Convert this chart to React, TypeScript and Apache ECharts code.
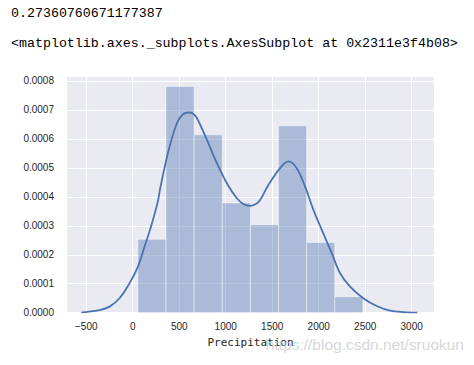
import React, { useEffect, useRef } from "react";
import * as echarts from "echarts";

// Histogram bins (edges) and densities
const binEdges = [55, 357.5, 660, 962.5, 1265, 1567.5, 1870, 2172.5, 2475];
const binDensity = [0.0002535, 0.000781, 0.000614, 0.000379, 0.000304, 0.000645, 0.000242, 0.0000553];

// KDE curve points
const kdeX = [-553, -535, -357, -249, -142, -34, 56, 127, 199, 271, 296, 385, 475, 540, 600, 650, 690, 797, 905, 1012, 1120, 1190, 1263, 1320, 1370, 1459, 1585, 1674, 1764, 1854, 1943, 2033, 2141, 2230, 2337, 2480, 2624, 2767, 2910, 3060];
const kdeY = [0, 0.000001, 0.000009, 0.000021, 0.00005, 0.000102, 0.000159, 0.000228, 0.0003, 0.000385, 0.00043, 0.00056, 0.000654, 0.000685, 0.000691, 0.000687, 0.000672, 0.000597, 0.000516, 0.000447, 0.000395, 0.000375, 0.000369, 0.000374, 0.000389, 0.000441, 0.000499, 0.000522, 0.000499, 0.000435, 0.000355, 0.000286, 0.000205, 0.000136, 0.00009, 0.00005, 0.000023, 0.000007, 0.000002, 0];

const xTickValues = [-500, 0, 500, 1000, 1500, 2000, 2500, 3000];
const xName = "Precipitation";
const printedLine1 = "0.27360760671177387";
const printedLine2 = "<matplotlib.axes._subplots.AxesSubplot at 0x2311e3f4b08>";
const watermark = "https://blog.csdn.net/sruokun";

export default function App() {
  const ref = useRef<HTMLDivElement>(null);
  useEffect(() => {
    if (!ref.current) return;
    const chart = echarts.init(ref.current, null, { renderer: "svg" });
    const histData = binDensity.map((h, i) => [binEdges[i], binEdges[i + 1], h]);
    const kdeData = kdeX.map((x, i) => [x, kdeY[i]]);
    const labelColor = "#262626";
    chart.setOption({
      animation: false,
      backgroundColor: "#ffffff",
      grid: {
        left: 67,
        top: 76,
        width: 367,
        height: 236.7,
        show: true,
        backgroundColor: "#eaeaf2",
        borderWidth: 0,
      },
      xAxis: {
        type: "value",
        min: -707,
        max: 3240,
        axisLine: { show: false },
        axisTick: { show: false, customValues: xTickValues },
        axisLabel: {
          customValues: xTickValues,
          color: labelColor,
          fontFamily: "Liberation Sans",
          fontSize: 10,
          margin: 9,
          formatter: (v: number) => (v < 0 ? "\u2212" + String(-v) : String(v)),
        },
        splitLine: { show: true, lineStyle: { color: "#ffffff", width: 1 } },
        name: xName,
        nameLocation: "middle",
        nameGap: 23,
        nameTextStyle: { color: labelColor, fontFamily: "DejaVu Sans Mono", fontSize: 11 },
      },
      yAxis: {
        type: "value",
        min: 0,
        max: 0.000817,
        interval: 0.0001,
        axisLine: { show: false },
        axisTick: { show: false },
        axisLabel: {
          showMaxLabel: false,
          color: labelColor,
          fontFamily: "Liberation Sans",
          fontSize: 10,
          margin: 13,
          formatter: (v: number) => v.toFixed(4),
        },
        splitLine: { show: true, lineStyle: { color: "#ffffff", width: 1 } },
      },
      graphic: [
        {
          type: "text",
          x: 11,
          y: 13,
          style: {
            text: printedLine1,
            fill: "#000000",
            font: "13.3px 'Liberation Mono'",
            verticalAlign: "middle",
          },
        },
        {
          type: "text",
          x: 11,
          y: 43,
          style: {
            text: printedLine2,
            fill: "#000000",
            font: "13.3px 'Liberation Mono'",
            verticalAlign: "middle",
          },
        },
        {
          type: "text",
          x: 464,
          y: 344,
          z: 100,
          style: {
            text: watermark,
            fill: "rgba(200,200,200,0.75)",
            font: "15.5px 'Liberation Sans'",
            align: "right",
            verticalAlign: "middle",
          },
        },
      ],
      series: [
        {
          type: "custom",
          z: 2,
          clip: true,
          encode: { x: [0, 1], y: 2 },
          data: histData,
          renderItem: (params: any, api: any) => {
            const x0 = api.value(0);
            const x1 = api.value(1);
            const h = api.value(2);
            const p0 = api.coord([x0, h]);
            const p1 = api.coord([x1, 0]);
            return {
              type: "rect",
              shape: { x: p0[0], y: p0[1], width: p1[0] - p0[0], height: p1[1] - p0[1] },
              style: {
                fill: "rgba(76,114,176,0.4)",
                stroke: "rgba(255,255,255,0.45)",
                lineWidth: 1,
              },
            };
          },
        },
        {
          type: "line",
          z: 3,
          data: kdeData,
          showSymbol: false,
          smooth: 0.35,
          clip: true,
          lineStyle: { color: "#4c72b0", width: 1.8 },
        },
      ],
    });
    return () => chart.dispose();
  }, []);
  return (
    <div
      ref={ref}
      style={{ position: "absolute", left: 0, top: 0, width: 474, height: 365 }}
    />
  );
}
